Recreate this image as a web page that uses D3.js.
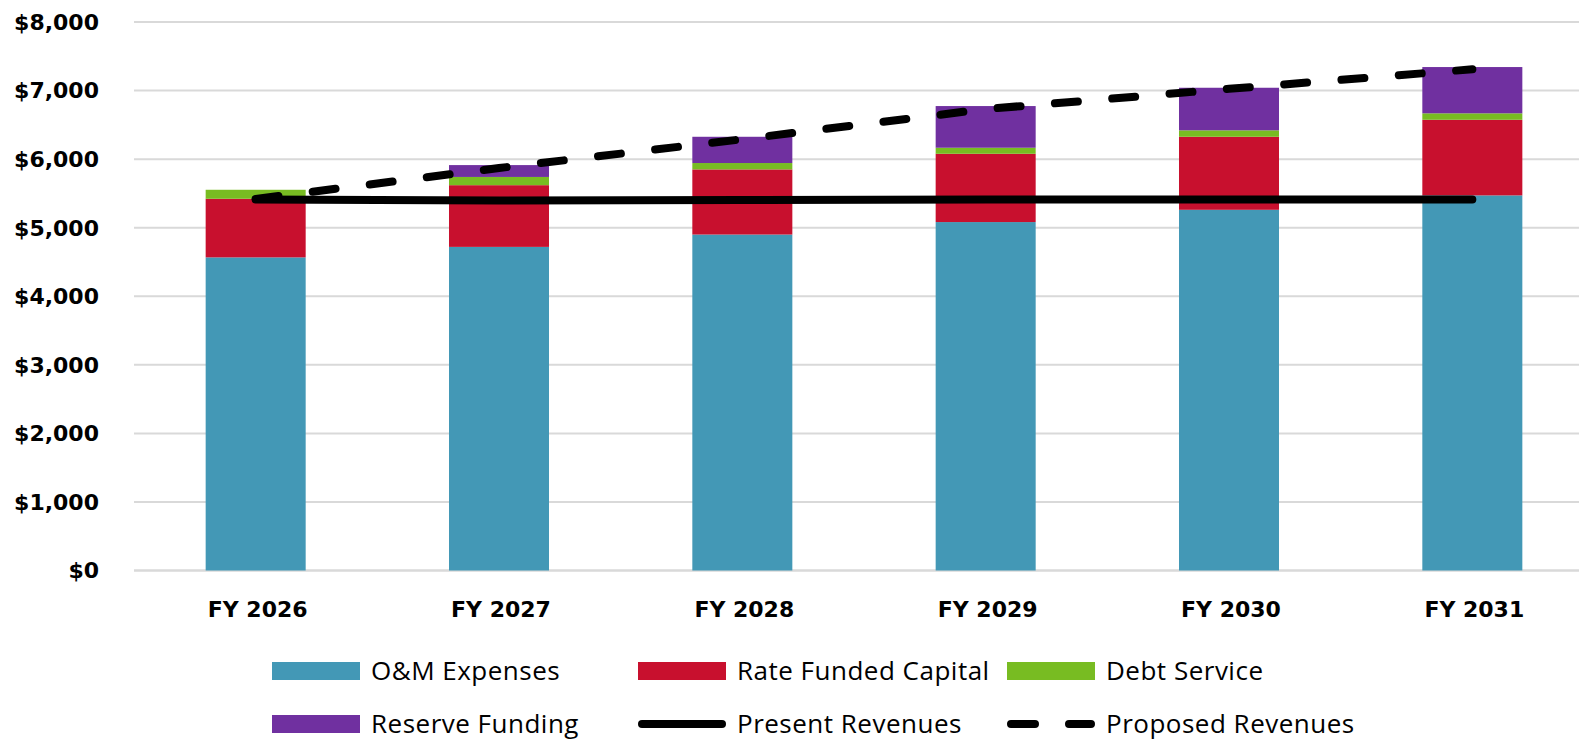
<!DOCTYPE html>
<html lang="en">
<head>
    <meta charset="UTF-8">
    <title>Revenue Requirements</title>
    <style>
        body { margin: 0; background: #ffffff; }
        svg text { font-family: 'DejaVu Sans', sans-serif; }
        .legend text { font-family: 'Open Sans', sans-serif; }
    </style>
    <script src="https://d3js.org/d3.v7.min.js"></script>
</head>
<body>
    <svg width="1579" height="742"></svg>
    <script>
        const years = ["FY 2026", "FY 2027", "FY 2028", "FY 2029", "FY 2030", "FY 2031"];
        const omExpenses = [4567, 4720, 4900, 5082, 5261, 5471];
        const rateFundedCapital = [855, 900, 950, 996, 1065, 1103];
        const debtService = [131, 120, 93, 88, 94, 94];
        const reserveFunding = [0, 173, 383, 608, 621, 675];
        const presentRevenues = [5410, 5395, 5405, 5410, 5410, 5410];
        const proposedRevenues = [5420, 5870, 6290, 6730, 7025, 7310];
        const yTicks = [0, 1000, 2000, 3000, 4000, 5000, 6000, 7000, 8000];

        const keys = ["O&M Expenses", "Rate Funded Capital", "Debt Service", "Reserve Funding"];
        const colors = ["#4398b6", "#c8102e", "#78bc22", "#7030a0"];

        const data = years.map((y, i) => ({
            year: y,
            "O&M Expenses": omExpenses[i],
            "Rate Funded Capital": rateFundedCapital[i],
            "Debt Service": debtService[i],
            "Reserve Funding": reserveFunding[i]
        }));

        const width = 1579, height = 742;
        const svg = d3.select("svg");

        const x = d3.scaleBand()
            .domain(years)
            .range([134, 1594])
            .paddingInner(0.589)
            .paddingOuter(0.2945);

        const y = d3.scaleLinear()
            .domain([0, 8000])
            .range([570.5, 22]);

        const color = d3.scaleOrdinal().domain(keys).range(colors);

        // gridlines
        svg.append("g")
            .selectAll("line")
            .data(yTicks)
            .enter().append("line")
            .attr("x1", 134)
            .attr("x2", width)
            .attr("y1", d => y(d))
            .attr("y2", d => y(d))
            .attr("stroke", "#d9d9d9")
            .attr("stroke-width", d => d === 0 ? 2.5 : 2);

        // y labels
        svg.append("g")
            .selectAll("text")
            .data(yTicks)
            .enter().append("text")
            .attr("x", 99)
            .attr("y", d => y(d))
            .attr("dy", "0.36em")
            .attr("text-anchor", "end")
            .style("font-size", "22px")
            .style("font-weight", "700")
            .style("fill", "#000")
            .text(d => "$" + d3.format(",")(d));

        // x labels
        svg.append("g")
            .selectAll("text")
            .data(years)
            .enter().append("text")
            .attr("x", d => x(d) + x.bandwidth() / 2 + 2)
            .attr("y", 617)
            .attr("text-anchor", "middle")
            .style("font-size", "22px")
            .style("font-weight", "700")
            .style("fill", "#000")
            .text(d => d);

        const series = d3.stack().keys(keys)(data);

        svg.append("g")
            .selectAll("g")
            .data(series)
            .enter().append("g")
            .attr("fill", d => color(d.key))
            .selectAll("rect")
            .data(d => d)
            .enter().append("rect")
            .attr("x", d => x(d.data.year))
            .attr("y", d => y(d[1]))
            .attr("width", x.bandwidth())
            .attr("height", d => Math.max(0, y(d[0]) - y(d[1])));

        const cx = d => x(d) + x.bandwidth() / 2;

        const line = d3.line()
            .x(d => cx(d.year))
            .y(d => y(d.v));

        svg.append("path")
            .datum(years.map((yr, i) => ({ year: yr, v: presentRevenues[i] })))
            .attr("d", line)
            .attr("fill", "none")
            .attr("stroke", "#000")
            .attr("stroke-width", 8)
            .attr("stroke-linecap", "round");

        svg.append("path")
            .datum(years.map((yr, i) => ({ year: yr, v: proposedRevenues[i] })))
            .attr("d", line)
            .attr("fill", "none")
            .attr("stroke", "#000")
            .attr("stroke-width", 8)
            .attr("stroke-linecap", "round")
            .attr("stroke-dasharray", "23 34.5");

        // legend
        const legendItems = [
            { name: "O&M Expenses", type: "box", col: 0, row: 0 },
            { name: "Rate Funded Capital", type: "box", col: 1, row: 0 },
            { name: "Debt Service", type: "box", col: 2, row: 0 },
            { name: "Reserve Funding", type: "box", col: 0, row: 1 },
            { name: "Present Revenues", type: "solid", col: 1, row: 1 },
            { name: "Proposed Revenues", type: "dash", col: 2, row: 1 }
        ];
        const colX = [272, 638, 1007];
        const rowY = [671, 724];

        const legend = svg.append("g").attr("class", "legend");
        legendItems.forEach(item => {
            const g = legend.append("g")
                .attr("transform", `translate(${colX[item.col]}, ${rowY[item.row]})`);
            if (item.type === "box") {
                g.append("rect")
                    .attr("x", 0).attr("y", -9)
                    .attr("width", 88).attr("height", 18)
                    .attr("fill", color(item.name));
            } else {
                g.append("line")
                    .attr("x1", 4).attr("x2", 84)
                    .attr("y1", 0).attr("y2", 0)
                    .attr("stroke", "#000")
                    .attr("stroke-width", 8)
                    .attr("stroke-linecap", "round")
                    .attr("stroke-dasharray", item.type === "dash" ? "24 34" : null);
            }
            g.append("text")
                .attr("x", 99)
                .attr("y", 0)
                .attr("dy", "0.35em")
                .style("font-size", "26px")
                .style("letter-spacing", "0.5px")
                .style("fill", "#000")
                .text(item.name);
        });
    </script>
</body>
</html>
